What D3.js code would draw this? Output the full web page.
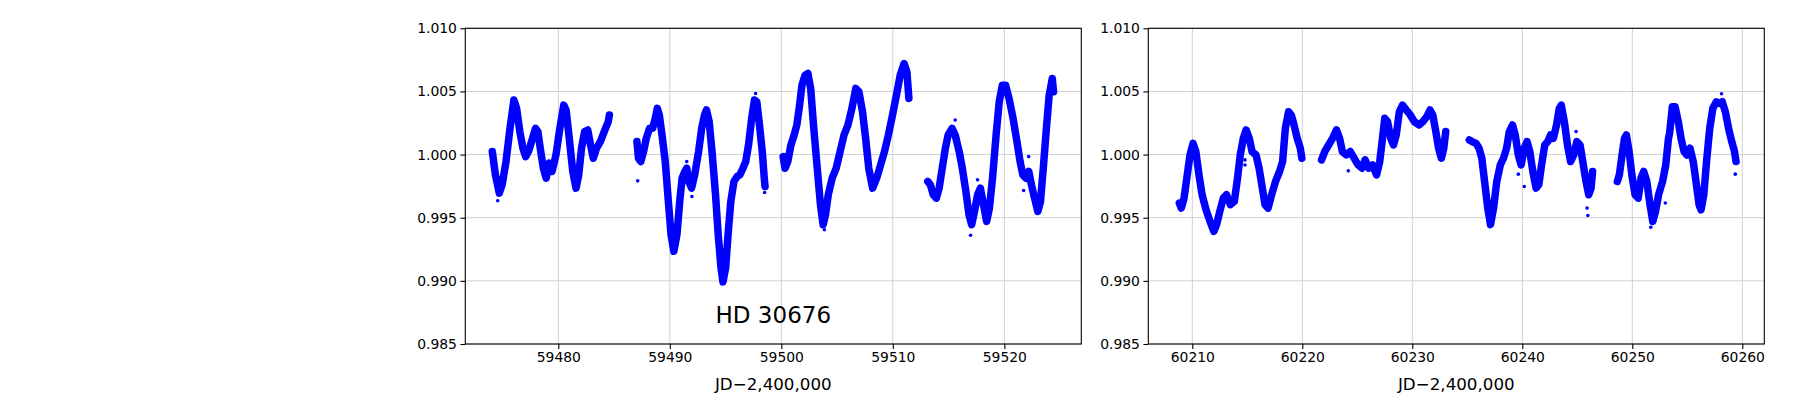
<!DOCTYPE html>
<html><head><meta charset="utf-8">
<script src="https://cdn.jsdelivr.net/npm/d3@7"></script>
<style>body{margin:0;background:#fff}svg{display:block}text{font-family:"DejaVu Sans",sans-serif;fill:#000}</style>
</head><body><svg id="c" width="1800" height="400"></svg>
<script>
// ---------- data ----------
const yTicks = [0.985, 0.990, 0.995, 1.000, 1.005, 1.010];
const yDomain = [0.985, 1.010];
const leftXTicks = [59480, 59490, 59500, 59510, 59520];
const rightXTicks = [60210, 60220, 60230, 60240, 60250, 60260];
const leftDomain = [59471.66, 59526.9];
const rightDomain = [60206.0, 60262.0];
const xLabelText = "JD\u22122,400,000";
const starName = "HD 30676";

// light-curve tracks [JD-2400000, normalized flux]
const leftSeg1 = [[59474.08,1.00024],[59474.36,0.99839],[59474.71,0.99695],[59474.96,0.99761],[59475.31,0.99945],[59475.67,1.00208],[59476.02,1.00432],[59476.26,1.00366],[59476.55,1.00182],[59476.83,1.00050],[59477.07,0.99984],[59477.32,1.00024],[59477.60,1.00103],[59477.96,1.00208],[59478.17,1.00182],[59478.38,1.00050],[59478.66,0.99892],[59478.91,0.99813],[59479.19,0.99932],[59479.44,0.99866],[59479.79,0.99997],[59480.14,1.00208],[59480.49,1.00392],[59480.70,1.00353],[59480.95,1.00155],[59481.30,0.99866],[59481.59,0.99734],[59481.83,0.99839],[59482.08,1.00050],[59482.36,1.00182],[59482.64,1.00195],[59482.89,1.00076],[59483.14,0.99971],[59483.42,1.00050],[59483.77,1.00103],[59484.12,1.00182],[59484.48,1.00261],[59484.58,1.00313]];
const leftSeg2 = [[59487.05,1.00103],[59487.19,0.99971],[59487.40,0.99945],[59487.65,1.00024],[59487.89,1.00129],[59488.18,1.00208],[59488.46,1.00208],[59488.70,1.00287],[59488.88,1.00366],[59489.06,1.00313],[59489.30,1.00155],[59489.59,0.99945],[59489.87,0.99629],[59490.11,0.99366],[59490.36,0.99234],[59490.64,0.99366],[59490.89,0.99629],[59491.10,0.99813],[59491.35,0.99866],[59491.52,0.99892],[59491.70,0.99787],[59491.95,0.99734],[59492.23,0.99839],[59492.58,1.00024],[59492.86,1.00208],[59493.11,1.00313],[59493.29,1.00353],[59493.53,1.00261],[59493.81,0.99997],[59494.10,0.99682],[59494.34,0.99366],[59494.59,0.99103],[59494.77,0.98992],[59495.01,0.99103],[59495.22,0.99366],[59495.47,0.99629],[59495.75,0.99787],[59496.04,0.99826],[59496.28,0.99839],[59496.56,0.99892],[59496.81,0.99945],[59497.06,1.00076],[59497.34,1.00287],[59497.59,1.00432],[59497.80,1.00418],[59498.04,1.00234],[59498.29,1.00024],[59498.47,0.99813],[59498.54,0.99747]];
const leftSeg3 = [[59500.16,0.99984],[59500.33,0.99892],[59500.58,0.99945],[59500.86,1.00076],[59501.15,1.00155],[59501.39,1.00234],[59501.64,1.00392],[59501.85,1.00550],[59502.13,1.00629],[59502.38,1.00642],[59502.63,1.00524],[59502.91,1.00208],[59503.22,0.99892],[59503.51,0.99603],[59503.75,0.99445],[59503.96,0.99524],[59504.21,0.99682],[59504.56,0.99813],[59504.92,0.99892],[59505.27,1.00024],[59505.62,1.00155],[59505.97,1.00234],[59506.33,1.00366],[59506.68,1.00524],[59506.96,1.00497],[59507.28,1.00339],[59507.56,1.00129],[59507.84,0.99892],[59508.19,0.99734],[59508.55,0.99813],[59508.90,0.99918],[59509.25,1.00024],[59509.60,1.00155],[59510.03,1.00339],[59510.38,1.00497],[59510.66,1.00629],[59511.01,1.00721],[59511.26,1.00655],[59511.44,1.00445]];
const leftSeg4 = [[59513.13,0.99787],[59513.37,0.99761],[59513.62,0.99682],[59513.90,0.99655],[59514.15,0.99734],[59514.43,0.99892],[59514.71,1.00050],[59514.96,1.00155],[59515.31,1.00208],[59515.59,1.00155],[59515.95,1.00024],[59516.23,0.99892],[59516.55,0.99708],[59516.83,0.99524],[59517.07,0.99445],[59517.32,0.99550],[59517.60,0.99682],[59517.85,0.99734],[59518.13,0.99603],[59518.41,0.99471],[59518.66,0.99576],[59518.94,0.99813],[59519.26,1.00155],[59519.54,1.00418],[59519.82,1.00550],[59520.11,1.00550],[59520.42,1.00445],[59520.78,1.00287],[59521.13,1.00103],[59521.41,0.99945],[59521.66,0.99839],[59521.94,0.99813],[59522.19,0.99866],[59522.43,0.99761],[59522.71,0.99655],[59523.00,0.99550],[59523.24,0.99629],[59523.49,0.99892],[59523.77,1.00208],[59524.02,1.00471],[59524.30,1.00603],[59524.41,1.00497]];
const leftOutliers = [[59474.57,0.99634],[59487.12,0.99792],[59491.52,0.99945],[59491.98,0.99668],[59498.50,0.99700],[59503.86,0.99405],[59515.59,1.00274],[59516.97,0.99361],[59517.60,0.99800],[59522.18,0.99984],[59521.73,0.99716],[59497.69,1.00484]];

const rightSeg1 = [[60208.82,0.99616],[60209.00,0.99576],[60209.25,0.99655],[60209.54,0.99839],[60209.79,0.99997],[60210.07,1.00089],[60210.32,1.00024],[60210.61,0.99839],[60210.89,0.99682],[60211.25,0.99563],[60211.61,0.99471],[60211.96,0.99392],[60212.21,0.99445],[60212.50,0.99550],[60212.82,0.99655],[60213.11,0.99682],[60213.46,0.99603],[60213.82,0.99629],[60214.11,0.99813],[60214.36,0.99997],[60214.64,1.00129],[60214.89,1.00195],[60215.18,1.00129],[60215.43,1.00024],[60215.79,0.99997],[60216.07,0.99892],[60216.32,0.99761],[60216.61,0.99603],[60216.89,0.99576],[60217.21,0.99682],[60217.57,0.99787],[60217.93,0.99866],[60218.21,0.99945],[60218.46,1.00208],[60218.75,1.00339],[60219.00,1.00313],[60219.25,1.00234],[60219.54,1.00129],[60219.82,1.00050],[60219.96,0.99971]];
const rightSeg2 = [[60221.75,0.99958],[60222.04,1.00024],[60222.39,1.00076],[60222.75,1.00129],[60223.11,1.00195],[60223.39,1.00129],[60223.64,1.00024],[60224.00,0.99997],[60224.36,1.00024],[60224.71,0.99971],[60225.07,0.99918],[60225.43,0.99892],[60225.71,0.99958],[60226.04,0.99892],[60226.39,0.99918],[60226.75,0.99839],[60227.04,0.99945],[60227.29,1.00129],[60227.50,1.00287],[60227.75,1.00261],[60228.04,1.00129],[60228.29,1.00076],[60228.54,1.00155],[60228.82,1.00339],[60229.11,1.00392],[60229.46,1.00353],[60229.82,1.00313],[60230.18,1.00261],[60230.61,1.00234],[60230.96,1.00261],[60231.32,1.00300],[60231.61,1.00353],[60231.86,1.00313],[60232.14,1.00182],[60232.39,1.00050],[60232.64,0.99971],[60232.86,1.00050],[60233.04,1.00182]];
const rightSeg3 = [[60235.18,1.00116],[60235.43,1.00103],[60235.79,1.00089],[60236.07,1.00050],[60236.32,0.99971],[60236.57,0.99787],[60236.86,0.99576],[60237.11,0.99445],[60237.39,0.99576],[60237.68,0.99787],[60238.00,0.99918],[60238.29,0.99971],[60238.57,1.00050],[60238.82,1.00182],[60239.11,1.00234],[60239.36,1.00155],[60239.64,0.99997],[60239.89,0.99918],[60240.18,1.00050],[60240.43,1.00103],[60240.68,1.00024],[60240.96,0.99866],[60241.25,0.99734],[60241.50,0.99761],[60241.75,0.99918],[60242.04,1.00076],[60242.32,1.00103],[60242.57,1.00155],[60242.82,1.00129],[60243.11,1.00234],[60243.36,1.00366],[60243.54,1.00392],[60243.82,1.00261],[60244.11,1.00076],[60244.39,0.99945],[60244.68,0.99997],[60244.96,1.00103],[60245.25,1.00076],[60245.50,0.99945],[60245.79,0.99787],[60246.04,0.99682],[60246.25,0.99734],[60246.39,0.99866]];
const rightSeg4 = [[60248.64,0.99787],[60248.82,0.99839],[60249.07,0.99997],[60249.29,1.00129],[60249.46,1.00155],[60249.71,1.00024],[60249.96,0.99839],[60250.25,0.99682],[60250.54,0.99655],[60250.79,0.99813],[60251.04,0.99866],[60251.32,0.99787],[60251.61,0.99603],[60251.86,0.99471],[60252.11,0.99550],[60252.39,0.99682],[60252.75,0.99787],[60253.04,0.99918],[60253.29,1.00129],[60253.39,1.00168],[60253.64,1.00379],[60253.89,1.00379],[60254.18,1.00261],[60254.43,1.00129],[60254.71,1.00024],[60254.96,0.99997],[60255.25,1.00050],[60255.54,0.99945],[60255.79,0.99787],[60256.07,0.99603],[60256.25,0.99563],[60256.50,0.99682],[60256.75,0.99945],[60257.04,1.00208],[60257.32,1.00366],[60257.64,1.00418],[60257.93,1.00405],[60258.18,1.00418],[60258.46,1.00339],[60258.75,1.00208],[60259.04,1.00103],[60259.29,1.00024],[60259.43,0.99945]];
const rightOutliers = [[60214.79,0.99918],[60214.79,0.99958],[60224.18,0.99871],[60239.64,0.99845],[60240.18,0.99747],[60245.96,0.99518],[60244.89,1.00182],[60259.36,0.99845],[60253.00,0.99616],[60251.68,0.99424],[60258.11,1.00482],[60245.89,0.99576]];

// ---------- drawing ----------
const svg = d3.select("#c");
const plotTop = 28.3, plotBottom = 344, pw = 616;
const panels = [
  {x0: 465.3, domain: leftDomain, ticks: leftXTicks, segs: [leftSeg1, leftSeg2, leftSeg3, leftSeg4], out: leftOutliers, name: true},
  {x0: 1148.3, domain: rightDomain, ticks: rightXTicks, segs: [rightSeg1, rightSeg2, rightSeg3, rightSeg4], out: rightOutliers, name: false}
];
const yScale = d3.scaleLinear().domain(yDomain).range([plotBottom, plotTop]);

panels.forEach((p, i) => {
  const x = d3.scaleLinear().domain(p.domain).range([p.x0, p.x0 + pw]);
  const g = svg.append("g");
  const clipId = "clip" + i;
  svg.append("clipPath").attr("id", clipId).append("rect")
    .attr("x", p.x0).attr("y", plotTop).attr("width", pw).attr("height", plotBottom - plotTop);

  g.selectAll(".vg").data(p.ticks).enter().append("line")
    .attr("x1", d => x(d)).attr("x2", d => x(d)).attr("y1", plotTop).attr("y2", plotBottom)
    .attr("stroke", "#d0d0d0").attr("stroke-width", 1);
  g.selectAll(".hg").data(yTicks).enter().append("line")
    .attr("x1", p.x0).attr("x2", p.x0 + pw).attr("y1", d => yScale(d)).attr("y2", d => yScale(d))
    .attr("stroke", "#d0d0d0").attr("stroke-width", 1);

  const line = d3.line().x(d => x(d[0])).y(d => yScale(d[1]));
  const dg = g.append("g").attr("clip-path", `url(#${clipId})`);
  dg.selectAll("path.band").data(p.segs).enter().append("path")
    .attr("d", line).attr("fill", "none").attr("stroke", "#0000ff")
    .attr("stroke-width", 7.5).attr("stroke-linejoin", "round").attr("stroke-linecap", "round");
  dg.selectAll("circle").data(p.out).enter().append("circle")
    .attr("cx", d => x(d[0])).attr("cy", d => yScale(d[1])).attr("r", 1.8).attr("fill", "#0000ff");

  const xAxis = d3.axisBottom(x).tickValues(p.ticks).tickFormat(d3.format("d")).tickSize(4.9).tickPadding(3.5);
  const gx = svg.append("g").attr("transform", `translate(0,${plotBottom})`).call(xAxis);
  const yAxis = d3.axisLeft(yScale).tickValues(yTicks).tickFormat(d3.format(".3f")).tickSize(4.9).tickPadding(3.5);
  const gy = svg.append("g").attr("transform", `translate(${p.x0},0)`).call(yAxis);
  [gx, gy].forEach(a => {
    a.select(".domain").remove();
    a.selectAll(".tick line").attr("stroke", "#000").attr("stroke-width", 1.1);
    a.selectAll(".tick text").attr("font-size", "13.9px").attr("font-family", "DejaVu Sans").attr("fill", "#000");
  });

  svg.append("rect").attr("x", p.x0).attr("y", plotTop).attr("width", pw).attr("height", plotBottom - plotTop)
    .attr("fill", "none").attr("stroke", "#000").attr("stroke-width", 1.1);

  svg.append("text").attr("x", p.x0 + pw / 2).attr("y", 390).attr("text-anchor", "middle")
    .attr("font-size", "16.7px").text(xLabelText);

  if (p.name) {
    svg.append("text").attr("x", p.x0 + pw / 2).attr("y", 322.7).attr("text-anchor", "middle")
      .attr("font-size", "23px").text(starName);
  }
});
</script>
</body></html>
